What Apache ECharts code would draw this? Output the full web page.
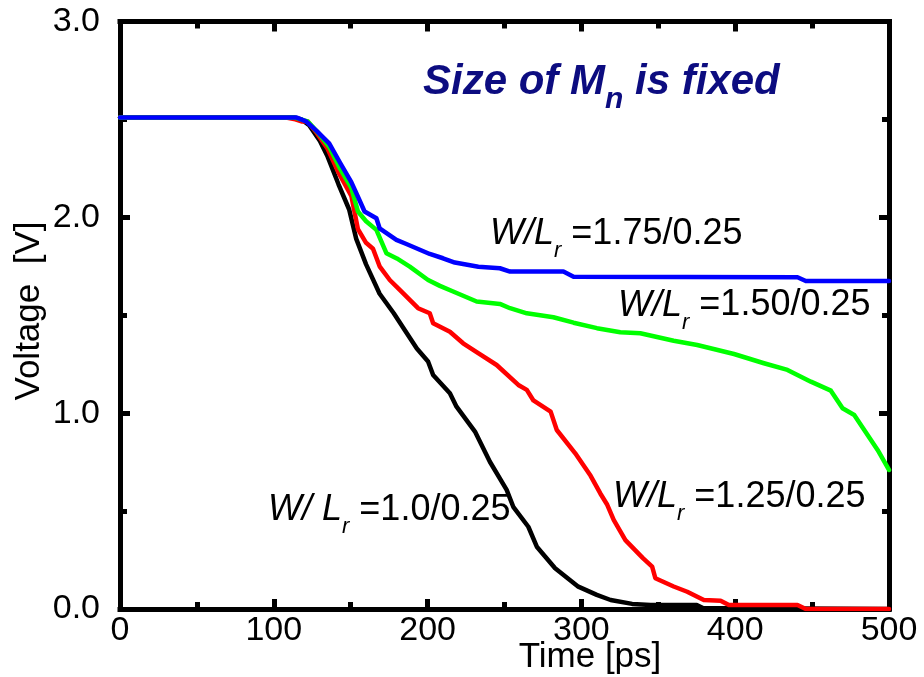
<!DOCTYPE html>
<html>
<head>
<meta charset="utf-8">
<script src="https://cdn.jsdelivr.net/npm/echarts@6/dist/echarts.min.js"></script>
<style>
  html, body { margin: 0; padding: 0; background: #ffffff; }
  #chart { width: 924px; height: 677px; }
</style>
</head>
<body>
<div id="chart"></div>
<script>
// Output voltage transients [ps, V] for four pull-up sizes; pull-down size fixed.
const trace100 = [
  [0, 2.51], [113, 2.51], [118, 2.50], [123, 2.47], [130, 2.39], [135, 2.31],
  [142, 2.17], [149, 2.04], [153.6, 1.89], [160, 1.76], [168.8, 1.61], [178, 1.51],
  [185.1, 1.425], [193, 1.33], [200.3, 1.264], [203.6, 1.195], [214.5, 1.102],
  [218.8, 1.033], [230.8, 0.906], [240.5, 0.752], [251.4, 0.608], [255.7, 0.522],
  [265.5, 0.42], [271, 0.318], [282.9, 0.208], [298, 0.114], [310, 0.072],
  [319, 0.046], [333, 0.026], [345, 0.02], [375, 0.02], [379, 0.005], [500, 0]
];
const trace125 = [
  [0, 2.51], [108, 2.51], [114, 2.50], [118, 2.49], [122, 2.49], [128, 2.43],
  [135, 2.35], [142, 2.23], [150.4, 2.11], [154.7, 1.94], [160, 1.87], [164.5, 1.84],
  [168.8, 1.75], [175.4, 1.68], [181.9, 1.63], [193.8, 1.536], [201.4, 1.51],
  [203.6, 1.459], [214.5, 1.416], [223.1, 1.357], [232.9, 1.306], [244.9, 1.246],
  [259, 1.144], [264.5, 1.119], [268.8, 1.065], [280, 1.008], [284, 0.914],
  [296, 0.795], [306, 0.68], [312.3, 0.59], [316.6, 0.535], [321, 0.455],
  [328.6, 0.352], [340, 0.26], [346, 0.216], [348.1, 0.157], [360, 0.115],
  [368.8, 0.088], [379.6, 0.046], [390.5, 0.042], [395.9, 0.02], [440.5, 0.02],
  [445.9, 0], [500, 0]
];
const trace150 = [
  [0, 2.51], [113, 2.51], [122, 2.49], [129, 2.43], [136, 2.36], [143, 2.25],
  [150.4, 2.15], [154.7, 2.03], [160, 1.98], [166.7, 1.936], [173.2, 1.817],
  [180, 1.79], [188.4, 1.748], [200.3, 1.68], [208, 1.65], [216.6, 1.621],
  [231.9, 1.57], [247, 1.558], [253.6, 1.536], [264.5, 1.51], [281.8, 1.49],
  [294.9, 1.462], [310.1, 1.434], [325.3, 1.413], [338.3, 1.408], [360, 1.37],
  [375.3, 1.348], [399.2, 1.302], [418.7, 1.255], [434, 1.221], [449.2, 1.161],
  [462.2, 1.115], [469.8, 1.025], [477.4, 0.991], [492.6, 0.812], [500, 0.71]
];
const trace175 = [
  [0, 2.51], [114.5, 2.51], [121, 2.49], [128, 2.44], [136, 2.378], [143, 2.28],
  [150.4, 2.18], [155, 2.10], [159, 2.03], [166.7, 1.995], [168.8, 1.944],
  [179.7, 1.885], [186.2, 1.864], [201.4, 1.813], [210, 1.791], [217.7, 1.769],
  [233, 1.748], [247, 1.74], [253.6, 1.723], [288.3, 1.723], [294.9, 1.697],
  [440.5, 1.694], [445.9, 1.675], [500, 1.675]
];

const traceRatios = ['1.0/0.25', '1.25/0.25', '1.50/0.25', '1.75/0.25'];
const traceColors = ['#000000', '#ff0000', '#00ff00', '#0000ff'];
const traces = [trace100, trace125, trace150, trace175];

const xTickLabels = ['0', '100', '200', '300', '400', '500'];
const yTickLabels = ['0.0', '1.0', '2.0', '3.0'];

const FONT = '"Liberation Sans", Arial, Helvetica, sans-serif';

function makeAxis(kind, position, showLabels) {
  const isX = kind === 'x';
  return {
    type: 'value',
    position: position,
    min: 0,
    max: isX ? 500 : 3,
    interval: isX ? 100 : 1,
    axisLine: { show: true, onZero: false, lineStyle: { color: '#000', width: 5, cap: 'square' } },
    axisTick: { show: true, inside: true, length: 10, lineStyle: { color: '#000', width: 5 } },
    minorTick: { show: true, splitNumber: 2, length: 7, lineStyle: { color: '#000', width: 5 } },
    splitLine: { show: false },
    axisLabel: {
      show: showLabels,
      fontFamily: FONT,
      fontSize: 34,
      color: '#000',
      margin: isX ? 5 : 20,
      formatter: function (v) {
        const list = isX ? xTickLabels : yTickLabels;
        const idx = Math.round(isX ? v / 100 : v);
        return list[idx] !== undefined ? list[idx] : '';
      }
    }
  };
}

// Rich text for "W/L_r =..." curve captions
const captionRich = {
  i: { fontFamily: FONT, fontSize: 36, fontStyle: 'italic', verticalAlign: 'middle' },
  s: { fontFamily: FONT, fontSize: 22, fontStyle: 'italic', verticalAlign: 'middle', padding: [34, 0, 0, 0] },
  n: { fontFamily: FONT, fontSize: 36, verticalAlign: 'middle' }
};
function caption(x, y, ratio, slash) {
  return {
    type: 'text', x: x, y: y, z: 100,
    style: {
      text: '{i|' + slash + '}{s|r}{n| =' + ratio + '}',
      rich: captionRich,
      fill: '#000',
      align: 'left',
      verticalAlign: 'middle'
    }
  };
}

const chart = echarts.init(document.getElementById('chart'), null, { renderer: 'canvas' });

chart.setOption({
  animation: false,
  backgroundColor: '#ffffff',
  grid: { left: 120, right: 35, top: 21.5, bottom: 68, containLabel: false },
  xAxis: [makeAxis('x', 'bottom', true), makeAxis('x', 'top', false)],
  yAxis: [makeAxis('y', 'left', true), makeAxis('y', 'right', false)],
  series: traces.map(function (data, k) {
    return {
      type: 'line',
      name: 'W/Lr=' + traceRatios[k],
      data: data,
      showSymbol: false,
      symbol: 'none',
      z: 2 + k,
      lineStyle: { color: traceColors[k], width: 4.5, join: 'round', cap: 'round' }
    };
  }),
  graphic: [
    {
      type: 'text', x: 423, y: 82.5, z: 100,
      style: {
        text: '{a|Size of M}{b|n}{a| is fixed}',
        fill: '#0c0c80',
        align: 'left',
        verticalAlign: 'middle',
        rich: {
          a: { fontFamily: FONT, fontSize: 42, fontStyle: 'italic', fontWeight: 'bold', verticalAlign: 'middle' },
          b: { fontFamily: FONT, fontSize: 30, fontStyle: 'italic', fontWeight: 'bold', verticalAlign: 'middle', padding: [34, 0, 0, 0] }
        }
      }
    },
    caption(490, 234, traceRatios[3], 'W/L'),
    caption(618, 305.5, traceRatios[2], 'W/L'),
    caption(613, 497, traceRatios[1], 'W/L'),
    caption(268, 510, traceRatios[0], 'W/ L'),
    {
      type: 'text', x: 590, y: 657, z: 100,
      style: { text: 'Time [ps]', fontFamily: FONT, fontSize: 35, fill: '#000', align: 'center', verticalAlign: 'middle' }
    },
    {
      type: 'text', x: 29, y: 311, rotation: Math.PI / 2, z: 100,
      style: { text: 'Voltage  [V]', fontFamily: FONT, fontSize: 35, fill: '#000', align: 'center', verticalAlign: 'middle' }
    }
  ]
});
</script>
</body>
</html>
